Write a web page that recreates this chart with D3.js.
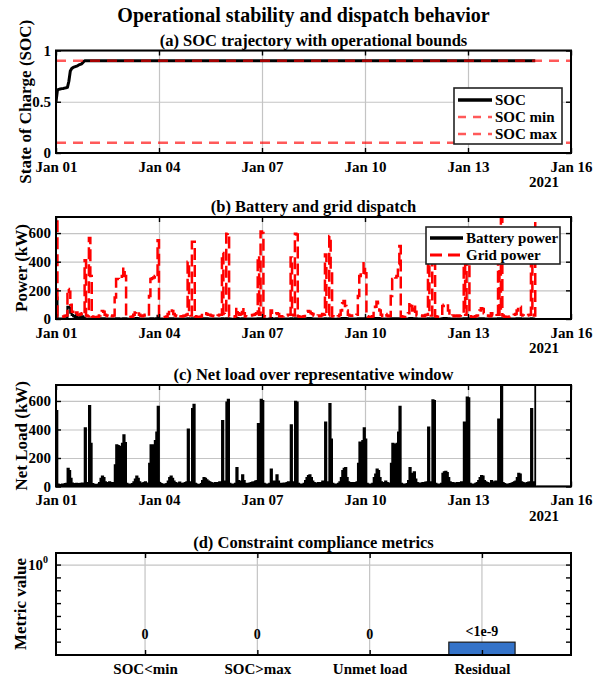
<!DOCTYPE html>
<html><head><meta charset="utf-8">
<script src="https://cdn.jsdelivr.net/npm/d3@7"></script>
<style>
body{margin:0;background:#fff}
svg{display:block}
text{font-family:"Liberation Serif","Times New Roman",serif;font-weight:bold;fill:#000}
</style>
</head><body>
<svg id="c" width="607" height="677"></svg>
<script>
// ---------------- DATA ----------------
const startDate = "2021-01-01";
const xDomain = ["2021-01-01", "2021-01-16"];
const tickDates = ["2021-01-01","2021-01-04","2021-01-07","2021-01-10","2021-01-13","2021-01-16"];
const yearLabel = "2021";

// SOC trajectory (hour index from start, value)
const socHour  = [0, 1, 2, 3, 4, 5, 6, 7, 8, 9, 10, 11, 12, 13, 14, 15, 16, 17, 18, 19, 20, 335];
const socValue = [0.5, 0.615, 0.62, 0.625, 0.628, 0.63, 0.633, 0.636, 0.64, 0.70, 0.80, 0.825, 0.835, 0.84, 0.845, 0.85, 0.86, 0.865, 0.87, 0.885, 0.9, 0.9];
const socMin = 0.1;
const socMax = 0.9;
const socTicks = [0, 0.5, 1];

// Hourly series, 14 days x 24 h (kW)
const netLoad = [
 530,15,12,12,14,15,18,20,125,110,55,22,15,18,20,16,18,20,22,20,410,25,20,565,
 300,18,14,12,12,15,25,55,70,60,30,25,20,30,25,20,25,150,290,285,280,280,300,360,
 305,20,15,12,14,18,30,50,70,55,30,22,20,25,30,20,22,160,290,290,290,320,380,560,
 25,18,14,12,14,18,35,60,70,55,35,25,20,22,28,20,18,22,25,30,400,30,25,545,
 575,20,15,12,12,18,40,60,55,45,35,30,25,22,20,25,20,25,30,30,460,35,30,590,
 610,20,15,14,15,20,130,40,30,35,80,40,20,18,20,22,25,28,30,35,40,440,30,610,
 600,20,15,14,14,20,120,35,30,35,80,35,20,18,20,22,20,25,30,30,430,30,25,595,
 590,20,15,14,15,20,40,60,75,80,60,35,25,20,22,25,20,25,35,30,450,30,25,580,
 330,20,15,14,15,20,30,60,110,125,130,60,30,25,22,25,20,25,30,160,310,310,320,410,
 330,20,15,14,15,20,60,85,120,110,60,30,20,25,35,25,20,22,160,300,295,290,300,380,
 560,20,15,14,14,18,40,130,90,60,100,50,25,20,22,20,25,20,28,30,415,30,25,605,
 600,20,15,14,15,20,90,100,105,95,60,30,20,25,20,22,25,20,25,30,30,450,30,625,
 620,20,15,14,15,20,25,40,60,75,70,40,30,25,22,20,40,25,30,35,30,470,30,760,
 25,18,15,14,14,18,20,25,30,35,60,90,85,30,25,20,22,25,28,30,545,30,25,760
];
const gridPower = [
 680,18,14,14,16,18,22,25,210,190,100,50,35,30,45,30,28,35,40,30,410,25,20,565,
 300,18,14,12,12,15,25,50,55,50,30,25,20,30,25,20,25,150,280,280,275,280,300,360,
 300,20,15,12,14,18,30,45,55,50,30,22,20,25,30,20,22,160,280,285,290,300,290,550,
 25,18,14,12,14,18,35,60,70,55,35,25,20,22,28,20,18,22,25,30,400,30,25,540,
 540,20,15,12,12,18,40,45,40,35,30,30,25,22,20,25,20,25,30,30,460,35,30,595,
 600,20,15,14,15,20,80,40,30,35,80,40,20,18,20,22,25,28,30,35,40,440,30,610,
 600,20,15,14,14,20,60,35,30,35,40,35,20,18,20,22,20,25,30,30,430,30,25,595,
 590,20,15,14,15,20,40,50,55,50,40,35,25,20,22,25,20,25,35,30,450,30,25,580,
 330,20,15,14,15,20,30,60,110,125,90,60,30,25,22,25,20,25,30,160,300,310,300,390,
 320,20,15,14,15,20,60,85,120,110,60,30,20,25,35,25,20,22,160,280,295,290,300,380,
 510,20,15,14,14,18,40,120,90,60,100,50,25,20,22,20,25,20,28,30,400,30,25,505,
 500,20,15,14,15,20,90,100,105,95,60,30,20,25,20,22,25,20,25,30,30,450,30,600,
 600,20,15,14,15,20,25,40,60,75,70,40,30,25,22,20,40,25,30,35,30,470,30,760,
 25,18,15,14,14,18,20,25,30,35,60,90,85,30,25,20,22,25,28,30,545,30,25,760
];
const batteryPower = [
 150,3,2,2,2,3,4,5,85,80,45,28,20,12,25,10,10,15,18,10,2,1,1,2,
 2,1,1,1,1,2,3,4,5,4,3,2,2,3,2,2,2,3,4,4,3,3,3,4,
 5,2,1,1,1,2,3,4,6,4,3,2,2,2,3,2,2,3,4,4,3,3,4,22,
 3,2,1,1,1,2,3,4,5,4,3,2,2,2,3,2,2,2,3,3,4,3,3,4,
 4,2,1,1,1,2,3,4,5,4,3,3,2,2,2,2,2,2,3,3,4,3,3,4,
 4,2,1,1,1,2,6,4,3,3,5,4,2,2,2,2,2,3,3,3,3,4,3,5,
 4,2,1,1,1,2,6,3,3,3,5,3,2,2,2,2,2,2,3,3,4,3,2,4,
 4,2,1,1,1,2,3,5,6,6,5,3,2,2,2,2,2,2,3,3,4,3,2,4,
 4,2,1,1,1,2,3,5,6,7,7,5,3,2,2,2,2,2,3,4,4,4,4,5,
 4,2,1,1,1,2,4,6,7,6,4,3,2,2,3,2,2,2,4,4,4,4,4,5,
 5,2,1,1,1,2,3,7,6,4,5,4,2,2,2,2,2,2,3,3,4,3,2,5,
 5,2,1,1,1,2,5,6,6,5,4,3,2,2,2,2,2,2,3,3,3,4,3,5,
 5,2,1,1,1,2,2,3,4,5,4,3,3,2,2,2,3,2,3,3,3,4,3,5,
 3,2,1,1,1,2,2,2,3,3,4,5,5,3,2,2,2,2,3,3,4,3,2,5
];
const powerTicks = [0, 200, 400, 600];
const powerMax = 712;

// Constraint compliance metrics
const metricCategories = ["SOC<min", "SOC>max", "Unmet load", "Residual"];
const metricValues = [0, 0, 0, 1e-6];
const metricLabels = ["0", "0", "0", "<1e-9"];
const metricDomain = [1e-7, 8.7];
const metricMajorTicks = [1];
const metricMinorTicks = [1e-1, 1e-2, 1e-3, 1e-4, 1e-5, 1e-6];

// ---------------- LAYOUT ----------------
const svg = d3.select("#c");
const L = 56, R = 571;
const P = {
  a: {top: 50.5, bottom: 153},
  b: {top: 217, bottom: 319},
  c: {top: 385, bottom: 486.5},
  d: {top: 553, bottom: 655}
};
const GRID = "#c4c4c4";
const TICKFS = "15px";
const parseDay = d3.utcParse("%Y-%m-%d");
const t0 = parseDay(startDate);
const hourTime = h => d3.utcHour.offset(t0, h);
const x = d3.scaleUtc().domain(xDomain.map(parseDay)).range([L, R]);
const fmt = d3.utcFormat("%b %d");
const tickD = tickDates.map(parseDay);

svg.append("text").attr("x", 303.5).attr("y", 22).attr("text-anchor", "middle")
  .style("font-size", "20px").text("Operational stability and dispatch behavior");

let clipId = 0;
function clip(p) {
  const id = "clip" + (clipId++);
  svg.append("clipPath").attr("id", id).append("rect")
    .attr("x", L).attr("y", p.top).attr("width", R - L).attr("height", p.bottom - p.top);
  return "url(#" + id + ")";
}

function panelTitle(p, txt) {
  svg.append("text").attr("x", (L + R) / 2).attr("y", p.top - 5).attr("text-anchor", "middle")
    .style("font-size", "16.5px").text(txt);
}
function yLabel(p, txt, xc) {
  svg.append("text").attr("transform", `translate(${xc},${(p.top + p.bottom) / 2}) rotate(-90)`)
    .attr("text-anchor", "middle").attr("dominant-baseline", "central")
    .style("font-size", "17px").text(txt);
}

function styleAxis(g, fs) {
  g.select(".domain").remove();
  g.selectAll(".tick line").attr("stroke", "#000").attr("stroke-width", 1.4);
  g.selectAll("text").style("font-size", fs || TICKFS).attr("font-family", null);
}

function timeFrame(p, y, yTicks) {
  const h = p.bottom - p.top;
  svg.append("g").attr("transform", `translate(0,${p.bottom})`)
    .call(d3.axisBottom(x).tickValues(tickD).tickSize(-h).tickFormat(""))
    .call(g => { g.select(".domain").remove(); g.selectAll("line").attr("stroke", GRID).attr("stroke-width", 1.2); });
  svg.append("g").attr("transform", `translate(${L},0)`)
    .call(d3.axisLeft(y).tickValues(yTicks).tickSize(-(R - L)).tickFormat(""))
    .call(g => { g.select(".domain").remove(); g.selectAll("line").attr("stroke", GRID).attr("stroke-width", 1.2); });
}
function timeAxes(p, y, yTicks, yFmt) {
  svg.append("rect").attr("x", L).attr("y", p.top).attr("width", R - L).attr("height", p.bottom - p.top)
    .attr("fill", "none").attr("stroke", "#000").attr("stroke-width", 2);
  svg.append("g").attr("transform", `translate(0,${p.bottom})`)
    .call(d3.axisBottom(x).tickValues(tickD).tickSize(-5).tickPadding(8).tickFormat(fmt))
    .call(g => styleAxis(g));
  svg.append("g").attr("transform", `translate(0,${p.top})`)
    .call(d3.axisTop(x).tickValues(tickD).tickSize(-5).tickFormat(""))
    .call(g => styleAxis(g));
  svg.append("g").attr("transform", `translate(${L},0)`)
    .call(d3.axisLeft(y).tickValues(yTicks).tickSize(-5).tickPadding(5).tickFormat(yFmt))
    .call(g => styleAxis(g));
  svg.append("g").attr("transform", `translate(${R},0)`)
    .call(d3.axisRight(y).tickValues(yTicks).tickSize(-5).tickFormat(""))
    .call(g => styleAxis(g));
  svg.append("text").attr("x", R - 27).attr("y", p.bottom + 34).attr("text-anchor", "middle")
    .style("font-size", TICKFS).text(yearLabel);
}

function legend(x0, y0, w, h, items) {
  const g = svg.append("g");
  g.append("rect").attr("x", x0).attr("y", y0).attr("width", w).attr("height", h)
    .attr("fill", "#fff").attr("stroke", "#222").attr("stroke-width", 1.6);
  items.forEach(it => {
    g.append("line").attr("x1", it.lx1).attr("x2", it.lx2).attr("y1", it.y).attr("y2", it.y)
      .attr("stroke", it.color).attr("stroke-width", it.w).attr("stroke-opacity", it.op || 1)
      .attr("stroke-dasharray", it.dash || null);
    g.append("text").attr("x", it.tx).attr("y", it.y).attr("dominant-baseline", "central")
      .style("font-size", "15px").text(it.label);
  });
}

// ---------------- (a) SOC ----------------
{
  const p = P.a;
  const y = d3.scaleLinear().domain([0, 1]).range([p.bottom, p.top]);
  panelTitle(p, "(a) SOC trajectory with operational bounds");
  timeFrame(p, y, socTicks);
  const g = svg.append("g").attr("clip-path", clip(p));
  const socData = socHour.map((hh, i) => ({t: hourTime(hh), v: socValue[i]}));
  g.append("path").datum(socData)
    .attr("d", d3.line().x(d => x(d.t)).y(d => y(d.v)))
    .attr("fill", "none").attr("stroke", "#000").attr("stroke-width", 3).attr("stroke-linejoin", "round");
  [socMax, socMin].forEach(v => {
    g.append("line").attr("x1", L).attr("x2", R).attr("y1", y(v)).attr("y2", y(v))
      .attr("stroke", "#ff0000").attr("stroke-opacity", 0.65).attr("stroke-width", 2.5)
      .attr("stroke-dasharray", "10,7");
  });
  timeAxes(p, y, socTicks, d3.format("~g"));
  yLabel(p, "State of Charge (SOC)", 25);
  legend(454, 88, 108, 56, [
    {y: 100, lx1: 458, lx2: 492, tx: 495, color: "#000", w: 3.5, label: "SOC"},
    {y: 117, lx1: 458, lx2: 492, tx: 495, color: "#ff0000", op: 0.65, w: 2.5, dash: "8,7", label: "SOC min"},
    {y: 134, lx1: 458, lx2: 492, tx: 495, color: "#ff0000", op: 0.65, w: 2.5, dash: "8,7", label: "SOC max"}
  ]);
}

// ---------------- (b) dispatch ----------------
{
  const p = P.b;
  const y = d3.scaleLinear().domain([0, powerMax]).range([p.bottom, p.top]);
  panelTitle(p, "(b) Battery and grid dispatch");
  timeFrame(p, y, powerTicks);
  const g = svg.append("g").attr("clip-path", clip(p));
  const line = d3.line().curve(d3.curveStepAfter).x((d, i) => x(hourTime(i))).y(d => y(d));
  g.append("path").datum(batteryPower).attr("d", line)
    .attr("fill", "none").attr("stroke", "#000").attr("stroke-width", 2.2);
  g.append("path").datum(gridPower).attr("d", line)
    .attr("fill", "none").attr("stroke", "#ff0000").attr("stroke-width", 2.5)
    .attr("stroke-dasharray", "12,5");
  timeAxes(p, y, powerTicks, d3.format("d"));
  yLabel(p, "Power (kW)", 21.5);
  legend(426, 227, 134, 37, [
    {y: 238, lx1: 430, lx2: 463, tx: 466, color: "#000", w: 3.5, label: "Battery power"},
    {y: 255, lx1: 430, lx2: 463, tx: 466, color: "#ff0000", w: 3, dash: "12,6", label: "Grid power"}
  ]);
}

// ---------------- (c) net load ----------------
{
  const p = P.c;
  const y = d3.scaleLinear().domain([0, powerMax]).range([p.bottom, p.top]);
  panelTitle(p, "(c) Net load over representative window");
  timeFrame(p, y, powerTicks);
  const g = svg.append("g").attr("clip-path", clip(p));
  g.append("path").datum(netLoad)
    .attr("d", d3.area().curve(d3.curveStepAfter).x((d, i) => x(hourTime(i))).y0(y(0)).y1(d => y(d)))
    .attr("fill", "#000").attr("stroke", "#000").attr("stroke-width", 1.8);
  g.append("line").attr("x1", x(hourTime(netLoad.length))).attr("x2", R)
    .attr("y1", y(0)).attr("y2", y(0)).attr("stroke", "#000").attr("stroke-width", 1.5);
  timeAxes(p, y, powerTicks, d3.format("d"));
  yLabel(p, "Net Load (kW)", 21.5);
}

// ---------------- (d) metrics ----------------
{
  const p = P.d;
  const xc = d3.scalePoint().domain(metricCategories).range([L, R]).padding(0.793);
  const y = d3.scaleLog().domain(metricDomain).range([p.bottom, p.top]);
  const bw = xc.step() * 0.59;
  panelTitle(p, "(d) Constraint compliance metrics");
  svg.append("g").selectAll("line").data(metricCategories).join("line")
    .attr("x1", d => xc(d)).attr("x2", d => xc(d)).attr("y1", p.top).attr("y2", p.bottom)
    .attr("stroke", GRID).attr("stroke-width", 1.2);
  svg.append("g").selectAll("line").data(metricMajorTicks).join("line")
    .attr("x1", L).attr("x2", R).attr("y1", d => y(d)).attr("y2", d => y(d))
    .attr("stroke", GRID).attr("stroke-width", 1.2);
  // bars (zeros cannot be drawn on a log axis)
  const g = svg.append("g").attr("clip-path", clip(p));
  g.selectAll("rect").data(metricCategories.map((c, i) => ({c, v: metricValues[i]})).filter(d => d.v > 0))
    .join("rect")
    .attr("x", d => xc(d.c) - bw / 2).attr("width", bw)
    .attr("y", d => y(d.v)).attr("height", d => p.bottom - y(d.v))
    .attr("fill", "#3473c9").attr("stroke", "#1a1a1a").attr("stroke-width", 1.2);
  svg.append("g").selectAll("text").data(metricCategories.map((c, i) => ({c, v: metricValues[i], t: metricLabels[i]})))
    .join("text")
    .attr("x", d => xc(d.c))
    .attr("y", d => y(Math.max(d.v, metricMinorTicks[metricMinorTicks.length - 1])) - (d.v > 0 ? 11 : 8))
    .attr("text-anchor", "middle").attr("dominant-baseline", "central")
    .style("font-size", "14px").text(d => d.t);
  svg.append("rect").attr("x", L).attr("y", p.top).attr("width", R - L).attr("height", p.bottom - p.top)
    .attr("fill", "none").attr("stroke", "#000").attr("stroke-width", 2);
  svg.append("g").attr("transform", `translate(0,${p.bottom})`)
    .call(d3.axisBottom(xc).tickSize(-5).tickPadding(8))
    .call(g => styleAxis(g));
  svg.append("g").attr("transform", `translate(0,${p.top})`)
    .call(d3.axisTop(xc).tickSize(-5).tickFormat(""))
    .call(g => styleAxis(g));
  [L, R].forEach(xx => {
    const dir = xx === L ? 1 : -1;
    svg.append("g").selectAll("line").data(metricMajorTicks.concat(metricMinorTicks)).join("line")
      .attr("x1", xx).attr("x2", xx + dir * 5).attr("y1", d => y(d)).attr("y2", d => y(d))
      .attr("stroke", "#000").attr("stroke-width", 1.4);
  });
  const lab = svg.append("g").selectAll("text").data(metricMajorTicks).join("text")
    .attr("x", L - 8).attr("y", d => y(d)).attr("text-anchor", "end").attr("dominant-baseline", "central")
    .style("font-size", "15px");
  lab.append("tspan").text("10");
  lab.append("tspan").attr("dy", -6).style("font-size", "10px").text(d => Math.round(Math.log10(d)));
  yLabel(p, "Metric value", 20);
}
</script>
</body></html>
